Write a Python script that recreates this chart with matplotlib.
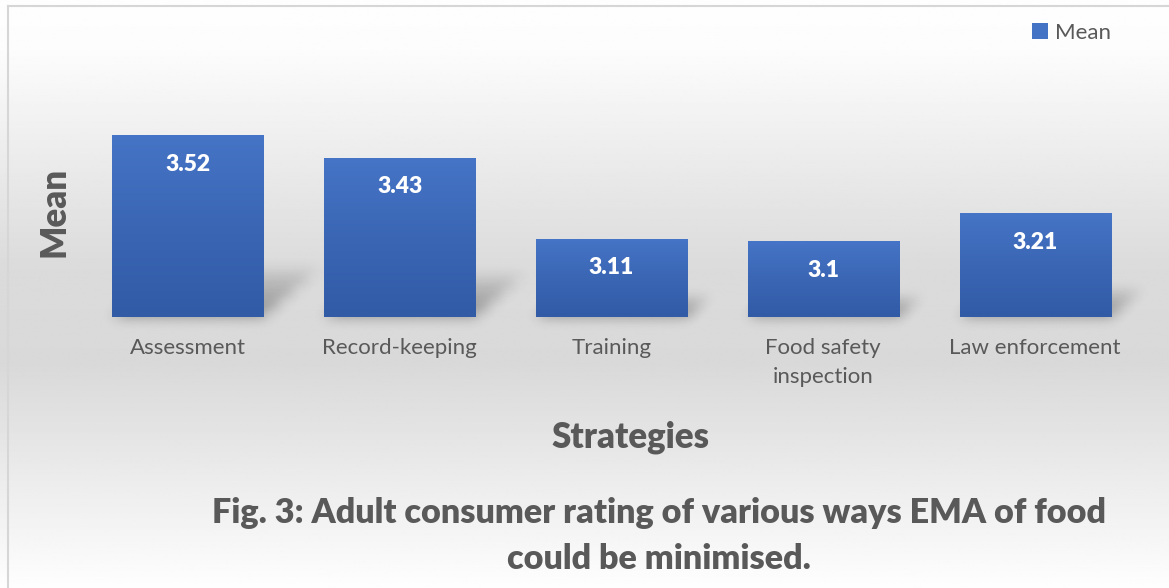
import numpy as np
import matplotlib
matplotlib.use("Agg")
import matplotlib.pyplot as plt
from matplotlib.patches import Polygon
from matplotlib.colors import LinearSegmentedColormap

# Mean rating of each strategy
strategies = ["Assessment", "Record-keeping", "Training", "Food safety\ninspection", "Law enforcement"]
means = [3.52, 3.43, 3.11, 3.1, 3.21]
value_labels = ["3.52", "3.43", "3.11", "3.1", "3.21"]

plt.rcParams['font.family'] = ['Lato', 'DejaVu Sans']
GREY_TXT = "#595959"


def blur(sigma):
    # gaussian blur applied to the rendered artist (agg_filter)
    def _f(img, dpi):
        pad = int(sigma * 3)
        img = np.pad(img, ((pad, pad), (pad, pad), (0, 0)))
        r = np.arange(-pad, pad + 1)
        k = np.exp(-r ** 2 / (2.0 * sigma ** 2))
        k /= k.sum()
        for ax_ in (0, 1):
            img = np.apply_along_axis(lambda v: np.convolve(v, k, mode="same"), ax_, img)
        return img, -pad, -pad
    return _f


fig = plt.figure(figsize=(11.69, 5.88), dpi=100)

# background: white -> light grey -> white
bg = fig.add_axes([0, 0, 1, 1], zorder=-10)
yy = np.linspace(0, 1, 300)
lev = np.interp(yy, [0.0, 0.08, 0.45, 0.62, 1.0], [0.995, 0.99, 0.86, 0.85, 0.995])
bg.imshow(np.repeat(lev[:, None], 2, axis=1), cmap="gray", vmin=0, vmax=1,
          aspect="auto", extent=[0, 1, 0, 1], origin="upper", interpolation="bilinear")
bg.set_xlim(0, 1)
bg.set_ylim(0, 1)
bg.axis("off")
# outer chart border (left and top visible)
bg.plot([7.5 / 1169, 7.5 / 1169], [0, 1 - 5.5 / 588], color="#d6d6d6", lw=1.5)
bg.plot([7.5 / 1169, 1], [1 - 5.5 / 588, 1 - 5.5 / 588], color="#d6d6d6", lw=1.5)

ax = fig.add_axes([82 / 1169, 271 / 588, 1059 / 1169, 253 / 588])
ax.set_facecolor("none")

base = 2.8
x = np.arange(len(strategies))
bars = ax.bar(x, np.array(means) - base, bottom=base, width=0.713,
              color="#4472C4", label="Mean", zorder=3)

ax.set_xlim(-0.5, len(strategies) - 0.5)
ax.set_ylim(2.8, 3.8)

bar_cmap = LinearSegmentedColormap.from_list("bar", ["#4674C6", "#3A66B4", "#325BA6"])
grad = np.linspace(0, 1, 100)[:, None]
for b, lab in zip(bars, value_labels):
    x0, w, h = b.get_x(), b.get_width(), b.get_height()
    # perspective floor shadow, fading away from the bar
    dx, dy = 0.37 * h, 0.26 * h
    for i, a in enumerate([0.42, 0.33, 0.24, 0.14]):
        f0, f1 = i / 4, (i + 1) / 4
        sh = Polygon([(x0 + f0 * dx, base + f0 * dy), (x0 + w + f0 * dx, base + f0 * dy),
                      (x0 + w + f1 * dx, base + f1 * dy), (x0 + f1 * dx, base + f1 * dy)],
                     closed=True, facecolor="#555555", edgecolor="none", alpha=a, zorder=2)
        sh.set_agg_filter(blur(6))
        ax.add_patch(sh)
    # vertical gradient fill clipped to the bar
    im = ax.imshow(grad, cmap=bar_cmap, aspect="auto", origin="upper",
                   extent=[x0, x0 + w, base, base + h], zorder=4, interpolation="bilinear")
    im.set_clip_path(b)
    ax.annotate(lab, (x0 + w / 2, base + h), xytext=(0, -21), textcoords="offset points",
                ha="center", va="center", color="white", fontsize=16.5, fontweight="heavy", zorder=5)

ax.set_xlim(-0.5, len(strategies) - 0.5)
ax.set_ylim(2.8, 3.8)

ax.set_xticks(x)
ax.set_xticklabels(strategies, fontsize=16, color=GREY_TXT, linespacing=1.6)
ax.tick_params(axis="x", length=0, pad=15)
ax.set_yticks([])
for s in ax.spines.values():
    s.set_visible(False)

ax.set_ylabel("Mean", fontsize=25, fontweight="heavy", color=GREY_TXT)
ax.yaxis.set_label_coords(-0.011, 0.415)
ax.set_xlabel("Strategies", fontsize=25, fontweight="heavy", color=GREY_TXT)
ax.xaxis.set_label_coords(0.518, -0.41)

leg = ax.legend(loc="center left", bbox_to_anchor=(1032 / 1169, 1 - 33 / 588),
                bbox_transform=fig.transFigure, frameon=False, fontsize=16,
                handlelength=0.7, handleheight=0.7, handletextpad=0.35,
                borderpad=0, borderaxespad=0)
for t in leg.get_texts():
    t.set_color(GREY_TXT)

fig.text(659 / 1169, 1 - 536 / 588,
         "Fig. 3: Adult consumer rating of various ways EMA of food\ncould be minimised.",
         ha="center", va="center", multialignment="center", fontsize=24.6,
         fontweight="heavy", color=GREY_TXT, linespacing=1.52)

fig.savefig("out.png", dpi=100)
